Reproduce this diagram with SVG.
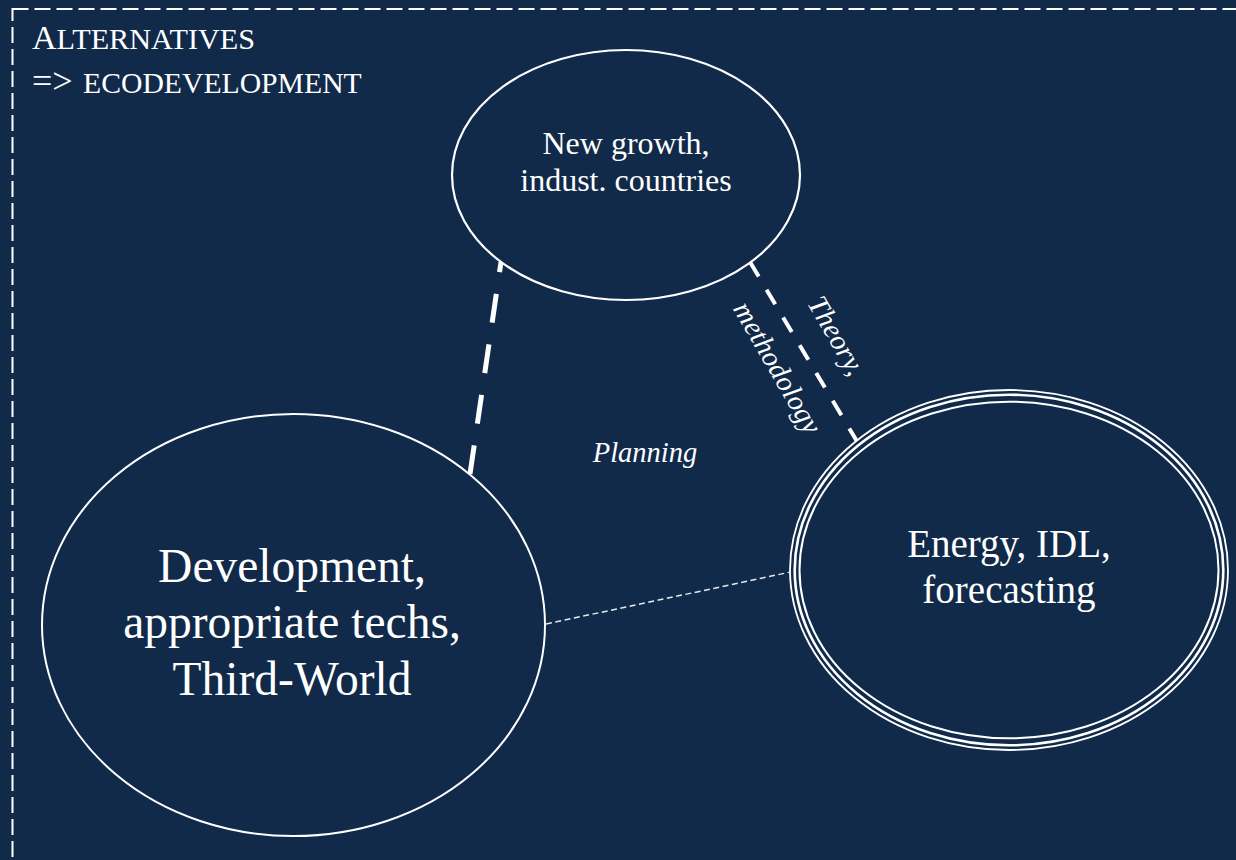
<svg xmlns="http://www.w3.org/2000/svg" width="1236" height="860" viewBox="0 0 1236 860">
<style>
  .bg { fill: #112a4a; }
  .frame { fill: none; stroke: #ffffff; stroke-width: 2; stroke-dasharray: 16 6; }
  .node { fill: #112a4a; stroke: #ffffff; }
  .t { font-family: "Liberation Serif", "Times New Roman", serif; fill: #ffffff; text-anchor: middle; }
  .lbl { font-family: "Liberation Serif", "Times New Roman", serif; fill: #ffffff; font-style: italic; font-size: 28.5px; text-anchor: middle; }
  .title { font-family: "Liberation Serif", "Times New Roman", serif; fill: #ffffff; }
  .edge { fill: none; stroke: #ffffff; }
</style>
<rect class="bg" x="0" y="0" width="1236" height="860"/>
<rect class="frame" x="12.5" y="9" width="1260" height="880"/>

<g id="title">
  <text class="title" x="32" y="49"><tspan font-size="34">A</tspan><tspan font-size="30.2">LTERNATIVES</tspan></text>
  <text class="title" x="32" y="93"><tspan font-size="36">=&gt;</tspan><tspan x="83" font-size="29.7">ECODEVELOPMENT</tspan></text>
</g>

<g id="connectors">
  <path class="edge" d="M470,474 L501,262" stroke-width="5" stroke-dasharray="29 22"/>
  <path class="edge" d="M858,443 L750,262" stroke-width="4" stroke-dasharray="17 15.3"/>
  <path class="edge" d="M546,624 L800,570" stroke-width="1.5" stroke-dasharray="6 3.5" opacity="0.9"/>
</g>

<g id="node-newgrowth">
  <ellipse class="node" cx="626" cy="175" rx="174" ry="125" stroke-width="2.2"/>
  <text class="t" x="626" y="154" font-size="32">New growth,</text>
  <text class="t" x="626" y="191" font-size="32">indust. countries</text>
</g>

<g id="node-development">
  <ellipse class="node" cx="293.5" cy="625" rx="251.5" ry="211" stroke-width="2"/>
  <text class="t" x="292" y="582" font-size="47.5">Development,</text>
  <text class="t" x="292" y="638" font-size="47.5">appropriate techs,</text>
  <text class="t" x="292" y="695" font-size="47.5">Third-World</text>
</g>

<g id="node-energy">
  <ellipse class="node" cx="1009" cy="570" rx="219" ry="180" stroke-width="1.8"/>
  <ellipse cx="1009" cy="570" rx="214.3" ry="175.3" fill="none" stroke="#ffffff" stroke-width="2.6"/>
  <ellipse cx="1009" cy="570" rx="209.5" ry="168.3" fill="none" stroke="#ffffff" stroke-width="2"/>
  <text class="t" x="1009" y="557" font-size="39">Energy, IDL,</text>
  <text class="t" x="1009" y="603" font-size="39">forecasting</text>
</g>

<g id="edge-labels">
  <text class="lbl" x="645" y="462">Planning</text>
  <text class="lbl" transform="translate(828.4,340.3) rotate(60)">Theory,</text>
  <text class="lbl" transform="translate(769.4,372.3) rotate(60)">methodology</text>
</g>
</svg>
